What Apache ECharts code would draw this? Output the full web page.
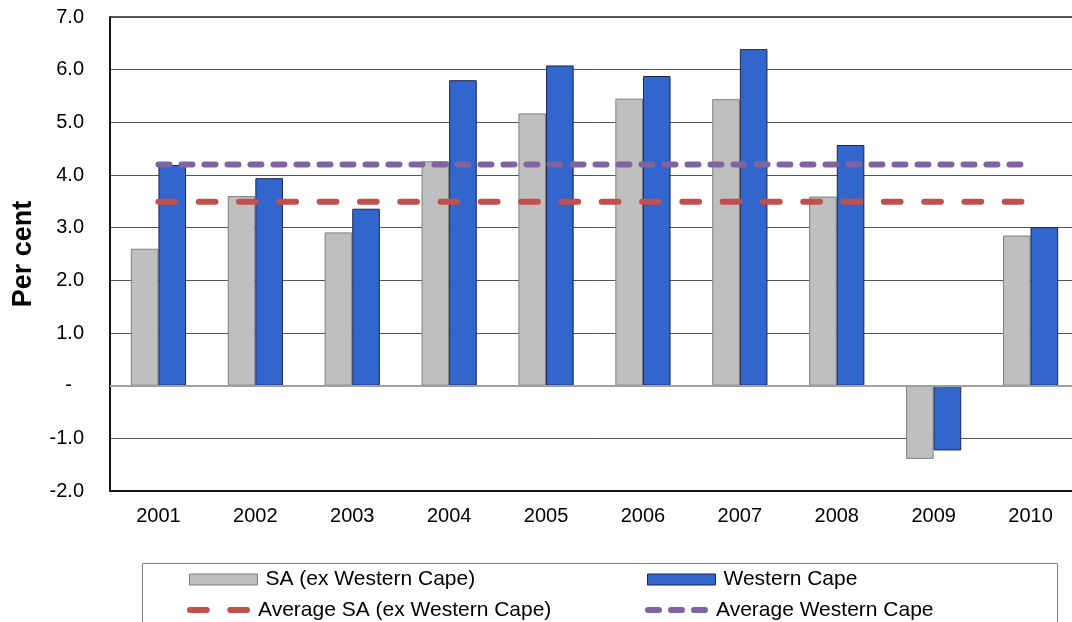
<!DOCTYPE html>
<html>
<head>
<meta charset="utf-8">
<script src="https://cdn.jsdelivr.net/npm/echarts@6/dist/echarts.min.js"></script>
<style>html,body{margin:0;padding:0;background:#fff;overflow:hidden}#c{width:1082px;height:622px}</style>
</head>
<body>
<div id="c"></div>
<script>
var categories = ['2001','2002','2003','2004','2005','2006','2007','2008','2009','2010'];
var saExWC = [2.60, 3.60, 2.91, 4.26, 5.17, 5.45, 5.44, 3.59, -1.39, 2.85];
var westernCape = [4.19, 3.94, 3.36, 5.80, 6.08, 5.88, 6.39, 4.57, -1.23, 3.01];
var avgSaExWC = [3.49, 3.49, 3.49, 3.49, 3.49, 3.49, 3.49, 3.49, 3.49, 3.49];
var avgWC = [4.20, 4.20, 4.20, 4.20, 4.20, 4.20, 4.20, 4.20, 4.20, 4.20];
var yTickValues = [-2, -1, 0, 1, 2, 3, 4, 5, 6, 7];
var yTickLabels = ['-2.0', '-1.0', '-', '1.0', '2.0', '3.0', '4.0', '5.0', '6.0', '7.0'];
var seriesNames = ['SA (ex Western Cape)', 'Western Cape', 'Average SA (ex Western Cape)', 'Average Western Cape'];

var FONT = 'Liberation Sans, Arial, sans-serif';
var chart = echarts.init(document.getElementById('c'), null, {renderer: 'canvas'});

function capsule(x, len) {
  var r = 3, body = len - 2 * r;
  return 'M' + (x + r) + ',0h' + body + 'a3,3 0 0 1 0,6h-' + body + 'a3,3 0 0 1 0,-6z';
}
var redDashIcon = 'path://' + capsule(0, 22.7) + ' ' + capsule(40.3, 22.7);
var purpleDashIcon = 'path://' + capsule(0, 17) + ' ' + capsule(23, 17) + ' ' + capsule(46, 17);

function legendAt(name, left, top, w, h, icon, itemStyle) {
  return {
    data: [{name: name, icon: icon, itemStyle: itemStyle}],
    left: left, top: top, padding: 0, itemWidth: w, itemHeight: h, itemGap: 0,
    selectedMode: false,
    textStyle: {fontFamily: FONT, fontSize: 21, color: '#000', lineHeight: 24, padding: [0, 0, 0, 3]}
  };
}

chart.setOption({
  animation: false,
  grid: {left: 110, top: 17, width: 969, height: 474, containLabel: false,
         show: true, borderColor: '#222', borderWidth: 1.5, backgroundColor: 'transparent'},
  legend: [
    legendAt(seriesNames[0], 189, 567.5, 68, 11, 'rect', {color: '#bfbfbf', borderColor: '#7f7f7f', borderWidth: 1}),
    legendAt(seriesNames[1], 647, 567.5, 68, 11, 'rect', {color: '#3366cc', borderColor: '#1c2550', borderWidth: 1}),
    legendAt(seriesNames[2], 187, 598, 63, 6, redDashIcon, {color: '#c0504d', borderWidth: 0}),
    legendAt(seriesNames[3], 645, 598, 63, 6, purpleDashIcon, {color: '#8064a2', borderWidth: 0})
  ],
  graphic: [{
    type: 'rect', shape: {x: 142.5, y: 563.5, width: 915, height: 80},
    style: {fill: 'none', stroke: '#808080', lineWidth: 1}, z: -1
  }],
  xAxis: {
    type: 'category', data: categories, boundaryGap: true,
    axisLine: {onZero: false, lineStyle: {color: '#000', width: 1.5}},
    axisTick: {show: false},
    axisLabel: {fontFamily: FONT, fontSize: 20, color: '#000', margin: 15}
  },
  yAxis: {
    type: 'value', min: -2, max: 7, interval: 1,
    name: 'Per cent', nameLocation: 'middle', nameGap: 73,
    nameTextStyle: {fontFamily: FONT, fontSize: 27, fontWeight: 'bold', color: '#000', padding: [0, 0, 0, 0]},
    axisLine: {show: true, lineStyle: {color: '#000', width: 1.5}},
    axisTick: {show: false},
    splitLine: {lineStyle: {color: '#555', width: 1}},
    axisLabel: {
      fontFamily: FONT, fontSize: 20, color: '#000', margin: 26,
      formatter: function (v) {
        var i = yTickValues.indexOf(Math.round(v));
        var t = i >= 0 ? yTickLabels[i] : '';
        return t === '-' ? '{d|-}' : t;
      },
      rich: {d: {fontFamily: FONT, fontSize: 20, color: '#000', padding: [0, 12, 0, 0]}}
    }
  },
  series: [
    {
      name: seriesNames[0], type: 'bar', data: saExWC, barWidth: 27.6, barGap: '0%',
      itemStyle: {color: '#bfbfbf', borderColor: '#7f7f7f', borderWidth: 1},
      markLine: {
        silent: true, symbol: 'none', label: {show: false},
        lineStyle: {color: '#a0a0a0', width: 2, type: 'solid'},
        data: [{yAxis: 0}]
      }
    },
    {
      name: seriesNames[1], type: 'bar', data: westernCape, barWidth: 27.6, barGap: '0%',
      itemStyle: {color: '#3366cc', borderColor: '#1c2550', borderWidth: 1}
    },
    {
      name: seriesNames[2], type: 'line', data: avgSaExWC, symbol: 'none', z: 5,
      itemStyle: {color: '#c0504d'},
      lineStyle: {color: '#c0504d', width: 6, type: [16.7, 23.6], cap: 'round'}
    },
    {
      name: seriesNames[3], type: 'line', data: avgWC, symbol: 'none', z: 5,
      itemStyle: {color: '#8064a2'},
      lineStyle: {color: '#8064a2', width: 6, type: [11, 12], cap: 'round'}
    }
  ]
});
</script>
</body>
</html>
